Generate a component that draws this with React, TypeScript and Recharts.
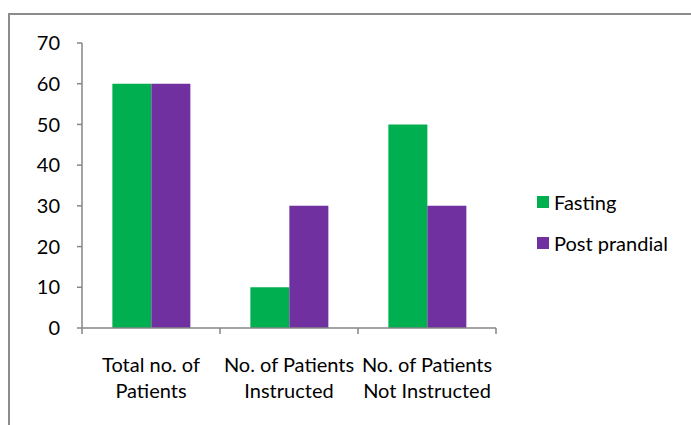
import React from 'react';
import { BarChart, Bar, XAxis, YAxis, Legend } from 'recharts';

const categories = ['Total no. of\nPatients', 'No. of Patients\nInstructed', 'No. of Patients\nNot Instructed'];
const fasting = [60, 10, 50];
const postPrandial = [60, 30, 30];
const yTicks = [0, 10, 20, 30, 40, 50, 60, 70];
const seriesNames = ['Fasting', 'Post prandial'];
const seriesColors = ['#00B050', '#7030A0'];

const data = categories.map((c, i) => ({ category: c, fasting: fasting[i], post: postPrandial[i] }));

const FONT = 'Lato, sans-serif';
const AXIS = '#868686';
const FS = 20;

function CategoryTick(props: any) {
  const { x, y, payload, width, visibleTicksCount, index } = props;
  const lines = String(payload.value).split('\n');
  const half = width && visibleTicksCount ? width / visibleTicksCount / 2 : 0;
  return (
    <g>
      {half > 0 && (
        <line x1={x - half} x2={x - half} y1={y} y2={y + 6} stroke={AXIS} strokeWidth={1.5} />
      )}
      {half > 0 && index === visibleTicksCount - 1 && (
        <line x1={x + half} x2={x + half} y1={y} y2={y + 6} stroke={AXIS} strokeWidth={1.5} />
      )}
      <text x={x} y={y} textAnchor="middle" fontFamily={FONT} fontSize={FS} fill="#000">
        {lines.map((l, i) => (
          <tspan key={i} x={x} y={y + 44 + i * 25.5}>{l}</tspan>
        ))}
      </text>
    </g>
  );
}

function renderLegend() {
  return (
    <div style={{ fontFamily: FONT, fontSize: FS, color: '#000' }}>
      {seriesNames.map((n, i) => (
        <div key={n} style={{ display: 'flex', alignItems: 'center', height: 41 }}>
          <div style={{ width: 12, height: 12, background: seriesColors[i], marginRight: 5 }} />
          <span>{n}</span>
        </div>
      ))}
    </div>
  );
}

export default function App() {
  return (
    <div style={{ position: 'absolute', left: 0, top: 0, width: 691, height: 425, overflow: 'hidden', background: '#fff' }}>
      <div style={{ position: 'absolute', left: 8, top: 13, width: 800, height: 600, borderLeft: `2px solid #8c8c8c`, borderTop: `2px solid #8c8c8c` }} />
      <div style={{ position: 'absolute', left: 0, top: 0 }}>
        <BarChart width={691} height={425} data={data} margin={{ top: 43, right: 195, bottom: 37, left: 22 }} barCategoryGap="22%" barGap={0}>
          <XAxis
            dataKey="category"
            interval={0}
            tick={<CategoryTick />}
            tickLine={false}
            tickSize={0}
            tickMargin={0}
            height={60}
            axisLine={{ stroke: AXIS, strokeWidth: 1.5 }}
          />
          <YAxis
            domain={[0, 70]}
            ticks={yTicks}
            interval={0}
            width={60}
            tickSize={5}
            tickMargin={17}
            axisLine={{ stroke: AXIS, strokeWidth: 1.5 }}
            tickLine={{ stroke: AXIS, strokeWidth: 1.5 }}
            tick={{ fontFamily: FONT, fontSize: FS, fill: '#000' }}
          />
          <Legend
            layout="vertical"
            align="center"
            verticalAlign="middle"
            wrapperStyle={{ left: 537, top: 181, width: 150, height: 82 }}
            content={renderLegend}
          />
          <Bar dataKey="fasting" name={seriesNames[0]} fill={seriesColors[0]} isAnimationActive={false} />
          <Bar dataKey="post" name={seriesNames[1]} fill={seriesColors[1]} isAnimationActive={false} />
        </BarChart>
      </div>
    </div>
  );
}
